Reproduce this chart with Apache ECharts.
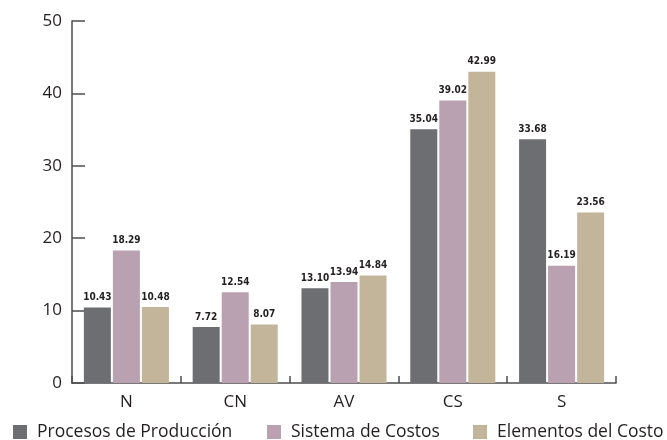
<!DOCTYPE html>
<html>
<head>
<meta charset="utf-8">
<script src="https://cdn.jsdelivr.net/npm/echarts@6/dist/echarts.min.js"></script>
<style>
  html, body { margin: 0; padding: 0; background: #ffffff; }
  #chart { width: 667px; height: 440px; }
</style>
</head>
<body>
<div id="chart"></div>
<script>
// Categories and series values
const categories = ['N', 'CN', 'AV', 'CS', 'S'];
const procesosProduccion = [10.43, 7.72, 13.10, 35.04, 33.68];
const sistemaCostos = [18.29, 12.54, 13.94, 39.02, 16.19];
const elementosCosto = [10.48, 8.07, 14.84, 42.99, 23.56];
const seriesNames = ['Procesos de Producción', 'Sistema de Costos', 'Elementos del Costo'];
const yTicks = [0, 10, 20, 30, 40, 50];

const colors = ['#6d6e72', '#b9a1b1', '#c3b59a'];
const axisColor = '#4d4d4f';
const textColor = '#231f20';

const chart = echarts.init(document.getElementById('chart'), null, { renderer: 'canvas' });

function barSeries(name, data, color) {
  return {
    name: name,
    type: 'bar',
    data: data,
    barWidth: 27,
    barGap: '7.5%',
    itemStyle: { color: color },
    label: {
      show: true,
      position: 'top',
      distance: 5,
      formatter: p => p.value.toFixed(2),
      fontFamily: '"DejaVu Sans Condensed", "Liberation Sans Narrow", sans-serif',
      fontWeight: 'bold',
      fontSize: 10,
      color: textColor
    }
  };
}

function legendAt(left, idx) {
  return {
    left: left,
    top: 418,
    orient: 'horizontal',
    data: [seriesNames[idx]],
    icon: 'rect',
    itemWidth: 14,
    itemHeight: 14,
    itemGap: 0,
    textStyle: {
      fontFamily: '"Open Sans", "Noto Sans", sans-serif',
      fontSize: 17.5,
      color: textColor,
      padding: [0, 0, 0, 5]
    },
    selectedMode: false
  };
}

chart.setOption({
  animation: false,
  backgroundColor: '#ffffff',
  color: colors,
  grid: { left: 72, right: 51, top: 21, bottom: 57, containLabel: false },
  legend: [legendAt(8, 0), legendAt(262, 1), legendAt(468, 2)],
  xAxis: {
    type: 'category',
    data: categories,
    axisLine: { show: true, lineStyle: { color: axisColor, width: 1.5 } },
    axisTick: { show: true, inside: true, length: 7, alignWithLabel: false, lineStyle: { color: axisColor, width: 1.5 } },
    axisLabel: {
      margin: 11,
      fontFamily: '"Open Sans", "Noto Sans", sans-serif',
      fontSize: 17,
      color: textColor
    },
    splitLine: { show: false }
  },
  yAxis: {
    type: 'value',
    min: yTicks[0],
    max: yTicks[yTicks.length - 1],
    interval: 10,
    axisLine: { show: true, lineStyle: { color: axisColor, width: 1.5 } },
    axisTick: { show: true, inside: true, length: 13, lineStyle: { color: axisColor, width: 1.5 } },
    axisLabel: {
      margin: 10,
      fontFamily: '"Open Sans", "Noto Sans", sans-serif',
      fontSize: 17,
      color: textColor
    },
    splitLine: { show: false }
  },
  series: [
    barSeries(seriesNames[0], procesosProduccion, colors[0]),
    barSeries(seriesNames[1], sistemaCostos, colors[1]),
    barSeries(seriesNames[2], elementosCosto, colors[2])
  ]
});
</script>
</body>
</html>
